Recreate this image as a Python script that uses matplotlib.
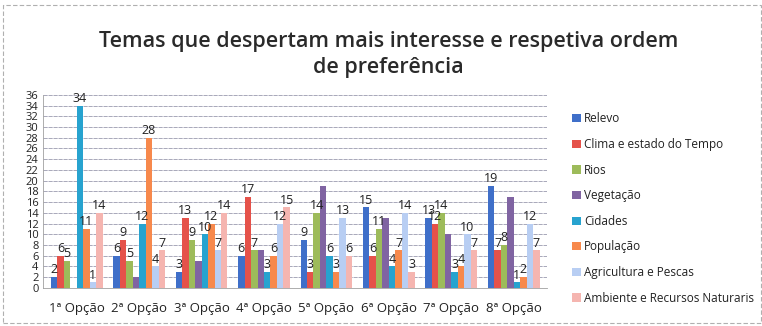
import matplotlib
matplotlib.use("Agg")
import matplotlib.pyplot as plt
import numpy as np
from matplotlib.patches import Rectangle

plt.rcParams['font.family'] = ['Open Sans', 'DejaVu Sans']

categories = ["1ª Opção", "2ª Opção", "3ª Opção", "4ª Opção",
              "5ª Opção", "6ª Opção", "7ª Opção", "8ª Opção"]

series_names = ["Relevo", "Clima e estado do Tempo", "Rios", "Vegetação",
                "Cidades", "População", "Agricultura e Pescas",
                "Ambiente e Recursos Naturaris"]

relevo      = [2, 6, 3, 6, 9, 15, 13, 19]
clima       = [6, 9, 13, 17, 3, 6, 12, 7]
rios        = [5, 5, 9, 7, 14, 11, 14, 8]
vegetacao   = [0, 2, 5, 7, 19, 13, 10, 17]
cidades     = [34, 12, 10, 3, 6, 4, 3, 1]
populacao   = [11, 28, 12, 6, 3, 7, 4, 2]
agricultura = [1, 4, 7, 12, 13, 14, 10, 12]
ambiente    = [14, 7, 14, 15, 6, 3, 7, 7]

series = [relevo, clima, rios, vegetacao, cidades, populacao, agricultura, ambiente]
colors = ["#3F6FC9", "#E5524A", "#9DBB5A", "#8064A2",
          "#27A3CF", "#F7894C", "#B8CEF3", "#F5B5B0"]
# Vegetação values carry no data labels
labelled = [True, True, True, False, True, True, True, True]

fig = plt.figure(figsize=(7.62, 3.26), dpi=100)
ax = fig.add_axes([0.056, 0.117, 0.662, 0.592])

n = len(series)
x = np.arange(len(categories))
group_w = 0.83
bw = group_w / n

for i, (vals, col, name) in enumerate(zip(series, colors, series_names)):
    pos = x - group_w / 2 + bw * (i + 0.5)
    bars = ax.bar(pos, vals, width=bw, color=col, label=name, zorder=3)
    if labelled[i]:
        ax.bar_label(bars, labels=[str(v) for v in vals], padding=0.5,
                     fontsize=9, color="#222222", zorder=4)

ax.set_xlim(-0.545, len(categories) - 1 + 0.535)
ax.set_ylim(0, 36)
ax.set_yticks(np.arange(0, 37, 2))
ax.set_xticks(x)
ax.set_xticklabels(categories, fontsize=9.5, color="#222222")
ax.tick_params(axis='y', labelsize=8, length=0, pad=3, colors="#222222")
ax.tick_params(axis='x', length=0, pad=10)

ax.grid(axis='y', color="#9a9aae", linewidth=0.6, linestyle=(0, (5, 1)), zorder=0)
for s in ['top', 'right']:
    ax.spines[s].set_visible(False)
ax.spines['left'].set_color("#a0a0a0")
ax.spines['bottom'].set_color("#a0a0a0")
ax.spines['left'].set_linewidth(0.6)
ax.spines['bottom'].set_linewidth(0.6)

fig.text(0.51, 0.834, "Temas que despertam mais interesse e respetiva ordem\nde preferência",
         ha='center', va='center', fontsize=15.5, fontweight='semibold',
         color="#2a2a2a", linespacing=1.3)

handles, labels = ax.get_legend_handles_labels()
leg = fig.legend(handles, labels, loc='upper left', bbox_to_anchor=(0.745, 0.67),
                 frameon=False, fontsize=8.5, handlelength=0.7, handleheight=0.7,
                 handletextpad=0.3, labelspacing=1.07, borderaxespad=0)
for t in leg.get_texts():
    t.set_color("#222222")

# dashed outline of the chart area
fig.patches.append(Rectangle((0.004, 0.01), 0.995, 0.975, transform=fig.transFigure,
                             fill=False, edgecolor="#b0b0b0", linewidth=0.8,
                             linestyle=(0, (4, 2))))

fig.savefig("out.png", dpi=100)
